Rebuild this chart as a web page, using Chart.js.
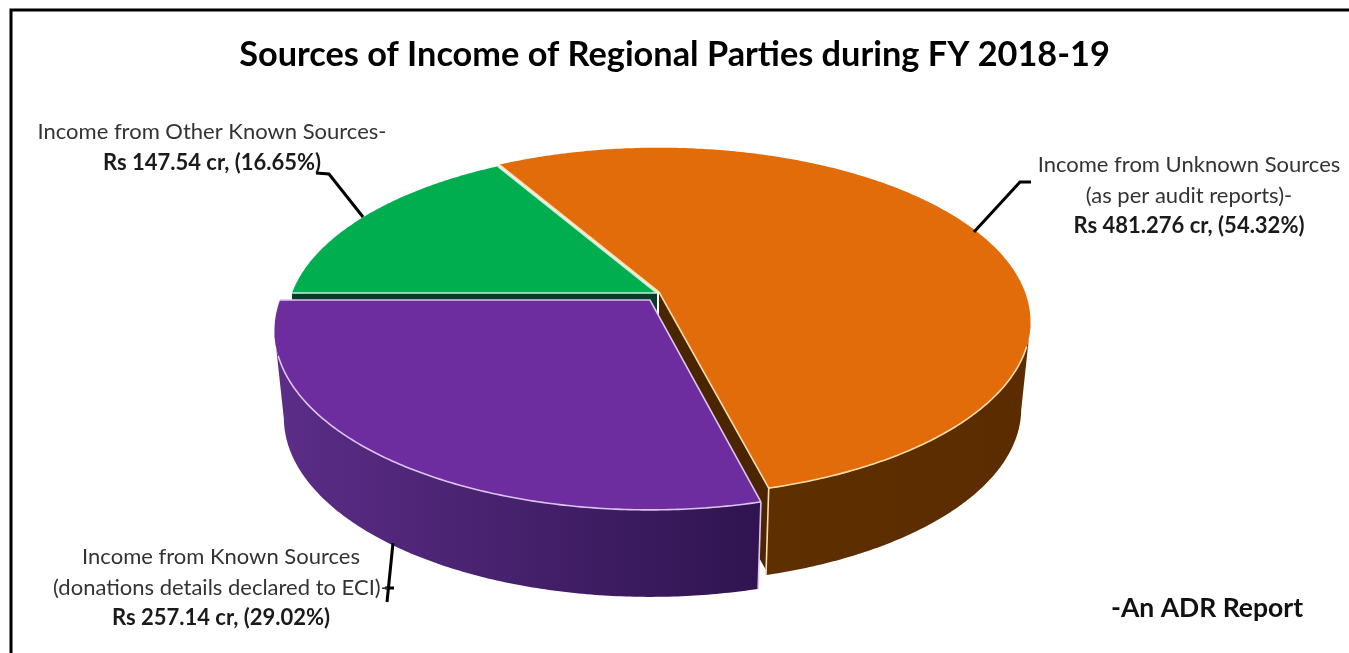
<!DOCTYPE html>
<html>
<head>
<meta charset="utf-8">
<title>Sources of Income of Regional Parties</title>
<script src="https://cdn.jsdelivr.net/npm/chart.js@4/dist/chart.umd.min.js"></script>
<style>
  html, body { margin: 0; padding: 0; background: #fff; }
  canvas { display: block; }
</style>
</head>
<body>
<canvas id="pieChart" width="1349" height="653"></canvas>
<script>
const titleText = 'Sources of Income of Regional Parties during FY 2018-19';
const categories = ['Income from Other Known Sources', 'Income from Unknown Sources', 'Income from Known Sources'];
const amounts = [147.54, 481.276, 257.14];
const topColors = ['#00ae50', '#e26c09', '#6e2d9e'];
const rimColors = ['#c8f0d8', '#ffdcb0', '#dcc4f0'];
const labelLines = [
  ['Income from Other Known Sources-'],
  ['Income from Unknown Sources', '(as per audit reports)-'],
  ['Income from Known Sources', '(donations details declared to ECI)-']
];
const labelAmounts = ['Rs 147.54 cr, (16.65%)', 'Rs 481.276 cr, (54.32%)', 'Rs 257.14 cr, (29.02%)'];
const creditText = '-An ADR Report';

// excel 3d pie look: perspective of the disc, each slice pulled out a little
const tilt = 0.171;
const depth = 87;
const bottomShrink = 0.975;
const slices = [
  { cx: 657, cy: 293, rx: 365, ry: 168, wall: ['#0b4a2c', '#0b4a2c'], cut: '#0a3a2a', cutAt: 'start' },
  { cx: 659, cy: 292, rx: 366, ry: 169, wall: ['#5e2f00', '#5a2c00'], cut: '#4a2500', cutAt: 'end', postAt: 'end' },
  { cx: 650, cy: 300, rx: 370, ry: 174, wall: ['#5c2d88', '#2f1450'], postAt: 'start' }
];
const labelBoxes = [
  { x: 212, y: 132 },
  { x: 1189, y: 165 },
  { x: 221, y: 557 }
];
const leaders = [
  [[363, 217], [329, 174], [316, 173]],
  [[974, 232], [1020, 182], [1031, 182]],
  [[393, 543], [387, 602]],
  [[385, 588], [394, 588]]
];

function project(s, angle, z) {
  const u = Math.cos(angle), v = Math.sin(angle), w = 1 - tilt * v;
  const k = z ? bottomShrink : 1;
  return [s.cx + s.rx * k * u / w, s.cy + (z ? depth : 0) + s.ry * v / w];
}

function arcAngles(a0, a1) {
  const out = [];
  const n = Math.ceil((a1 - a0) / 0.01);
  for (let i = 0; i <= n; i++) out.push(a0 + (a1 - a0) * i / n);
  return out;
}

function trace(ctx, pts) {
  pts.forEach((p, i) => i ? ctx.lineTo(p[0], p[1]) : ctx.moveTo(p[0], p[1]));
}

function drawSlice(ctx, arc, s, i) {
  const angles = arcAngles(arc.startAngle, arc.endAngle);
  const top = angles.map(a => project(s, a, false));
  const first = top[0], last = top[top.length - 1];

  // cut face along one straight edge of the slice
  if (s.cutAt) {
    const edge = s.cutAt === 'start' ? first : last;
    ctx.fillStyle = s.cut;
    ctx.beginPath();
    trace(ctx, [[s.cx, s.cy], edge, [edge[0], edge[1] + depth], [s.cx, s.cy + depth]]);
    ctx.closePath();
    ctx.fill();
  }

  // outer wall, only the part that faces the viewer
  const facing = angles.filter(a => Math.sin(a) > tilt);
  if (facing.length) {
    const upper = facing.map(a => project(s, a, false));
    const lower = facing.map(a => project(s, a, true));
    const grad = ctx.createLinearGradient(Math.min(...upper.map(p => p[0])), 0, Math.max(...upper.map(p => p[0])), 0);
    grad.addColorStop(0, s.wall[0]);
    grad.addColorStop(1, s.wall[1]);
    ctx.fillStyle = grad;
    ctx.beginPath();
    trace(ctx, upper.concat(lower.reverse()));
    ctx.closePath();
    ctx.fill();
  }

  // top face
  ctx.fillStyle = arc.options.backgroundColor;
  ctx.beginPath();
  trace(ctx, [[s.cx, s.cy]].concat(top));
  ctx.closePath();
  ctx.fill();

  // light edges
  ctx.strokeStyle = rimColors[i];
  ctx.lineWidth = 1.6;
  ctx.beginPath();
  trace(ctx, [first, [s.cx, s.cy], last]);
  ctx.stroke();
  ctx.beginPath();
  trace(ctx, top.filter((p, k) => Math.sin(angles[k]) > 0.3));
  ctx.stroke();
  if (s.postAt) {
    const a = s.postAt === 'start' ? arc.startAngle : arc.endAngle;
    ctx.beginPath();
    trace(ctx, [project(s, a, false), project(s, a, true)]);
    ctx.stroke();
  }
}

const pie3d = {
  id: 'pie3d',
  beforeDatasetsDraw(chart) {
    const ctx = chart.ctx;
    const arcs = chart.getDatasetMeta(0).data;
    ctx.save();
    // green at the back, orange next, purple in front
    [0, 1, 2].forEach(i => drawSlice(ctx, arcs[i], slices[i], i));
    ctx.restore();

    ctx.save();
    // frame: only the top and left sides show
    ctx.strokeStyle = '#000';
    ctx.lineWidth = 3;
    ctx.beginPath();
    trace(ctx, [[11, 653], [11, 10], [1349, 10]]);
    ctx.stroke();

    leaders.forEach(line => {
      ctx.beginPath();
      trace(ctx, line);
      ctx.stroke();
    });

    ctx.textAlign = 'center';
    ctx.textBaseline = 'middle';
    labelBoxes.forEach((box, i) => {
      ctx.fillStyle = '#333';
      ctx.font = '22px Lato';
      labelLines[i].forEach((t, k) => ctx.fillText(t, box.x, box.y + k * 30.5));
      ctx.fillStyle = '#1a1a1a';
      ctx.font = 'bold 22px Lato';
      ctx.fillText(labelAmounts[i], box.x, box.y + labelLines[i].length * 30.5);
    });
    ctx.fillStyle = '#111';
    ctx.font = 'bold 26.5px Lato';
    ctx.fillText(creditText, 1207, 608);
    ctx.restore();
    return false;
  }
};

new Chart(document.getElementById('pieChart'), {
  type: 'pie',
  data: {
    labels: categories,
    datasets: [{ data: amounts, backgroundColor: topColors, borderWidth: 0 }]
  },
  options: {
    responsive: false,
    animation: false,
    events: [],
    rotation: 270,
    layout: { padding: { top: 34 } },
    plugins: {
      legend: { display: false },
      tooltip: { enabled: false },
      title: {
        display: true,
        text: titleText,
        color: '#000',
        font: { family: 'Lato', size: 34.3, weight: 'bold' },
        padding: 0
      }
    }
  },
  plugins: [pie3d]
});
</script>
</body>
</html>
